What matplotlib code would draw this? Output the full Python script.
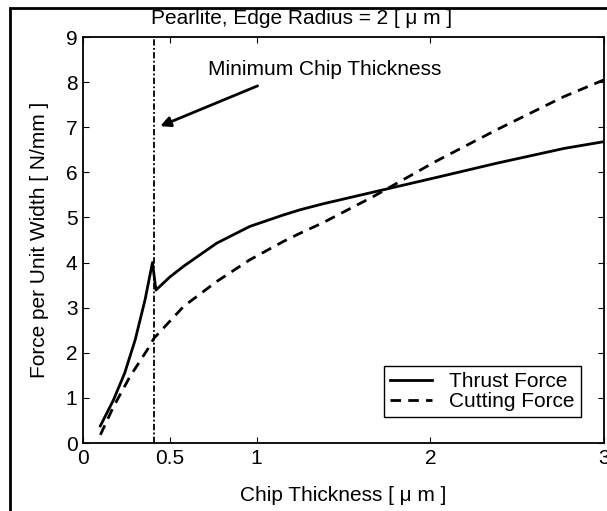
import matplotlib
matplotlib.use("Agg")
import matplotlib.pyplot as plt
from matplotlib.patches import Rectangle

plt.rcParams['font.family'] = ['Liberation Sans', 'DejaVu Sans']

# Data
thrust_x = [0.10, 0.175, 0.24, 0.30, 0.357, 0.40, 0.42, 0.50, 0.58, 0.77, 0.96, 1.15,
            1.25, 1.38, 1.67, 2.05, 2.38, 2.77, 3.0]
thrust_y = [0.38, 0.95, 1.55, 2.28, 3.17, 4.0, 3.39, 3.68, 3.92, 4.43, 4.80, 5.05,
            5.17, 5.30, 5.56, 5.90, 6.20, 6.53, 6.68]
cutting_x = [0.10, 0.175, 0.27, 0.376, 0.41, 0.44, 0.58, 0.77, 0.96, 1.15,
             1.25, 1.38, 1.67, 2.03, 2.38, 2.77, 3.0]
cutting_y = [0.18, 0.8, 1.47, 2.1, 2.33, 2.45, 3.03, 3.58, 4.06, 4.46,
             4.65, 4.88, 5.46, 6.24, 6.94, 7.68, 8.05]
min_chip = 0.41
x_ticks = [0, 0.5, 1, 2, 3]
x_ticklabels = ['0', '0.5', '1', '2', '3']
y_ticks = list(range(0, 10))

FS = 15

fig = plt.figure(figsize=(6.07, 5.11), dpi=100)
ax = fig.add_axes([83/607, 1 - 443/511, 521/607, 406/511])

ax.plot(thrust_x, thrust_y, color='black', lw=2.0, label='Thrust Force')
ax.plot(cutting_x, cutting_y, color='black', lw=2.0, linestyle=(0, (3.8, 2.6)), label='Cutting Force')
ax.axvline(min_chip, color='black', lw=1.3, linestyle=(0, (3.5, 1.3, 1, 1.3)))

ax.set_xlim(0, 3)
ax.set_ylim(0, 9)
ax.set_xticks(x_ticks)
ax.set_xticklabels(x_ticklabels)
ax.set_yticks(y_ticks)
ax.tick_params(direction='in', top=True, right=True, length=4, width=0.8,
               labelsize=FS, pad=4)
for s in ax.spines.values():
    s.set_linewidth(1.3)

ax.set_xlabel('Chip Thickness [ μ m ]', fontsize=FS, labelpad=13)
ax.set_ylabel('Force per Unit Width [ N/mm ]', fontsize=FS, labelpad=12)
fig.text(302/607, 1 - 18/511, 'Pearlite, Edge Radius = 2 [ μ m ]', fontsize=FS,
         ha='center', va='center')

ax.annotate('', xy=(0.43, 7.0), xytext=(1.02, 7.94),
            arrowprops=dict(arrowstyle='-|>', color='black', lw=2.0,
                            mutation_scale=15))
ax.text(1.39, 8.27, 'Minimum Chip Thickness', fontsize=FS, ha='center', va='center')

leg = ax.legend(loc='lower right', bbox_to_anchor=(0.955, 0.063), fontsize=FS,
                frameon=True, fancybox=False, edgecolor='black', framealpha=1,
                handlelength=2.0, borderpad=0.3, labelspacing=0.05, handletextpad=0.8,
                borderaxespad=0)
leg.get_frame().set_linewidth(1.0)

# outer border frame
fig.patches.append(Rectangle((10/607, -0.1), 1.2, 1 - 8/511 + 0.1, transform=fig.transFigure,
                             fill=False, edgecolor='black', lw=2))

fig.savefig('out.png', dpi=100)
